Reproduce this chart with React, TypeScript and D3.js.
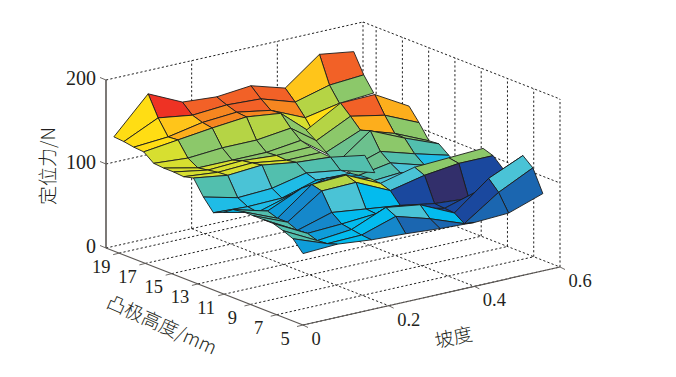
import React from "react";
import * as d3 from "d3";

// ---- data ----
const slopes = [0, 0.08, 0.16, 0.24, 0.32, 0.4, 0.48, 0.56];
const heights = [19.4, 18.64, 17.88, 17.13, 16.37, 15.61, 14.85, 14.09, 13.34, 12.58, 11.82, 11.06, 10.31, 9.55, 8.79, 8.03, 7.27, 6.52, 5.76, 5.0];
const _ = null;

// rear sheet: rows of the height grid 0..8
const rearForce = [
  [136, 178, 159, 156, 160, 148, 179, 173],
  [135, 154, 148, 151, 149, 136, 147, 150],
  [133, 136, 144, 147, 140, 122, 130, 133],
  [132, 137, 142, 146, 141, 106, 119, _],
  [123, 120, 123, 123, 128, 99, _, _],
  [122, 113, 113, 113, 118, 88, _, _],
  [122, 115, 117, 114, 115, _, _, _],
  [121, 117, 119, 113, 113, _, _, _],
  [124, 118, 121, 115, 112, _, _, _],
];
const rearShade = [
  [13, 18, 17, 17, 17, 14, 17],
  [13, 14, 16, 17, 16, 11, 10],
  [13, 15, 16, 16, 12, 13, 0],
  [12, 10, 11, 11, 10, 0, 0],
  [12, 10, 10, 10, 10, 0, 0],
  [12, 12, 10, 10, 0, 0, 0],
  [12, 12, 12, 10, 0, 0, 0],
  [12, 12, 12, 10, 0, 0, 0],
];

// ridge sheet: rows 9..16
const ridgeForce = [
  [_, _, _, 158, 181, 182, 159, _],
  [_, _, _, 150, 170, 162, 144, _],
  [_, _, _, 141, 158, 145, 127, _],
  [_, _, _, 132, 162, 144, 128, _],
  [_, _, _, 129, 142, 130, 119, _],
  [_, _, _, 126, 133, 121, 111, _],
  [_, _, _, 123, 126, 113, 108, _],
  [_, _, _, 112, 109, 102, 97, _],
];
const ridgeShade = [
  [0, 0, 0, 11, 17, 15, 0],
  [0, 0, 0, 10, 15, 10, 0],
  [0, 0, 0, 9, 10, 10, 0],
  [0, 0, 0, 9, 10, 8, 0],
  [0, 0, 0, 9, 8, 6, 0],
  [0, 0, 0, 8, 7, 7, 0],
  [0, 0, 0, 7, 7, 7, 0],
];

// front sheet: rows 8..19
const frontForce = [
  [124, 118, 121, 115, 112, 105, _, _],
  [106, 96, 98, 107, 101, 89, _, _],
  [92, 90, 91, 103, 102, _, _, _],
  [97, 88, 100, 110, 104, _, _, _],
  [105, 94, 112, 116, 105, _, _, _],
  [107, 90, 121, 123, 104, 114, 116, 118],
  [107, 90, 118, 119, 100, 109, 114, 114],
  [107, 85, 97, 92, 87, 80, 77, 103],
  [107, 86, 88, 91, 88, 79, 91, 103],
  [103, 82, 86, 103, 97, 78, 110, 128],
  [98, 83, 84, 97, 85, 70, 98, 118],
  [85, 87, 83, 81, 78, 76, 78, 92],
];
const frontShade = [
  [8, 7, 8, 8, 8, 0, 0],
  [6, 6, 6, 7, 7, 0, 0],
  [6, 6, 5, 6, 6, 0, 0],
  [5, 5, 4, 6, 6, 0, 0],
  [8, 4, 4, 11, 0, 0, 0],
  [8, 3, 11, 12, 7, 10, 10],
  [8, 3, 7, 5, 1, 0, 1],
  [8, 3, 5, 5, 1, 1, 1],
  [8, 4, 5, 5, 1, 1, 1],
  [8, 5, 5, 7, 5, 1, 7],
  [4, 5, 3, 2, 2, 2, 2],
];
const colormap = ["#322F6B", "#1A489E", "#1B66B0", "#1588CB", "#0F9DDA", "#03BBEE", "#1FBCE6", "#4AC3D6", "#52BFAE", "#6CC18E", "#8CC86A", "#B5D445", "#D7DF30", "#FFDD14", "#FFC51A", "#FDAE1C", "#F68620", "#F26127", "#EE3224"];

const zTicks = [0, 100, 200];
const zGrid = [100, 200];
const heightTicks = [19, 17, 15, 13, 11, 9, 7, 5];
const slopeTicks = [0, 0.2, 0.4, 0.6];

// ---- projection ----
const A = { x: 106, y: 248 };
const B = { x: 303, y: 325 };
const C = { x: 560, y: 267 };
const hFrac = d3.scaleLinear().domain([20, 5]).range([0, 1]);
const sFrac = d3.scaleLinear().domain([0, 0.6]).range([0, 1]);
const zPix = d3.scaleLinear().domain([0, 200]).range([0, 168]);
const project = (h: number, s: number, z: number): [number, number] => {
  const v = hFrac(h), u = sFrac(s);
  return [A.x + v * (B.x - A.x) + u * (C.x - B.x), A.y + v * (B.y - A.y) + u * (C.y - B.y) - zPix(z)];
};
const seg = (p: [number, number], q: [number, number]) => d3.line()([p, q]) as string;

const serif = "'Liberation Serif', 'Times New Roman', serif";
const cjk = "'Noto Sans CJK SC', 'Noto Sans', sans-serif";
const axisCol = "#5c5855";

type Sheet = { firstRow: number; force: (number | null)[][]; shade: number[][] };
const sheets: Sheet[] = [
  { firstRow: 0, force: rearForce, shade: rearShade },
  { firstRow: 9, force: ridgeForce, shade: ridgeShade },
  { firstRow: 8, force: frontForce, shade: frontShade },
];

function Surface() {
  const polys: React.ReactElement[] = [];
  sheets.forEach((sh, k) => {
    for (let r = 0; r < sh.force.length - 1; r++) {
      for (let i = slopes.length - 2; i >= 0; i--) {
        const a = sh.force[r][i], b = sh.force[r][i + 1], c = sh.force[r + 1][i + 1], d = sh.force[r + 1][i];
        if (a === null || b === null || c === null || d === null) continue;
        const j = sh.firstRow + r;
        const pts = [
          project(heights[j], slopes[i], a),
          project(heights[j], slopes[i + 1], b),
          project(heights[j + 1], slopes[i + 1], c),
          project(heights[j + 1], slopes[i], d),
        ];
        polys.push(
          <path key={`${k}-${r}-${i}`} d={d3.line()(pts) + "Z"} fill={colormap[sh.shade[r][i]]} stroke="#1c1c1c" strokeWidth={0.9} strokeLinejoin="round" />
        );
      }
    }
  });
  return <g>{polys}</g>;
}

function Box() {
  const dash = { stroke: "#222", strokeWidth: 1, strokeDasharray: "2.2 2.2", fill: "none" };
  const lines: string[] = [];
  zGrid.forEach((z) => {
    lines.push(seg(project(20, 0, z), project(20, 0.6, z)));
    lines.push(seg(project(20, 0.6, z), project(5, 0.6, z)));
  });
  lines.push(seg(project(20, 0, 0), project(20, 0.6, 0)));
  lines.push(seg(project(20, 0.6, 0), project(5, 0.6, 0)));
  lines.push(seg(project(20, 0.6, 0), project(20, 0.6, 200)));
  lines.push(seg(project(5, 0.6, 0), project(5, 0.6, 200)));
  slopeTicks.slice(1, 3).forEach((s) => {
    lines.push(seg(project(20, s, 0), project(20, s, 200)));
    lines.push(seg(project(20, s, 0), project(5, s, 0)));
  });
  heightTicks.forEach((h) => {
    lines.push(seg(project(h, 0, 0), project(h, 0.6, 0)));
    if (h !== 5) lines.push(seg(project(h, 0.6, 0), project(h, 0.6, 200)));
  });
  return <g>{lines.map((d, i) => <path key={i} d={d} {...dash} />)}</g>;
}

function Axes() {
  const A0 = project(20, 0, 0), A2 = project(20, 0, 200), B0 = project(5, 0, 0), C0 = project(5, 0.6, 0);
  return (
    <g fontFamily={serif} fontSize={18.5} fill="#231f20">
      <path d={seg(A0, A2)} stroke={axisCol} strokeWidth={1.6} />
      <path d={seg(A0, B0)} stroke={axisCol} strokeWidth={1.1} />
      <path d={seg(B0, C0)} stroke={axisCol} strokeWidth={1.2} />
      {zTicks.map((z) => {
        const p = project(20, 0, z);
        return (
          <g key={z}>
            <path d={seg(p, [p[0] - 6, p[1] - 2.5])} stroke={axisCol} strokeWidth={0.9} />
            <text x={p[0] - 10} y={p[1] + 5} textAnchor="end" fontSize={20}>{z}</text>
          </g>
        );
      })}
      {heightTicks.map((h) => {
        const p = project(h, 0, 0);
        return (
          <g key={h}>
            <path d={seg(p, [p[0] - 6, p[1] + 1.5])} stroke={axisCol} strokeWidth={0.9} />
            <text x={p[0] - 18} y={p[1] + 19.5} textAnchor="middle">{h}</text>
          </g>
        );
      })}
      {slopeTicks.map((s) => {
        const p = project(5, s, 0);
        return (
          <g key={s}>
            <path d={seg(p, [p[0] + 5, p[1] + 2.5])} stroke={axisCol} strokeWidth={0.9} />
            <text x={p[0] + 8.5} y={p[1] + 20}>{s}</text>
          </g>
        );
      })}
      <text x={55} y={166} transform="rotate(-90 55 166)" textAnchor="middle" fontFamily={cjk} fontWeight={300} fontSize={19}>定位力/N</text>
      <text x={159} y={331} transform="rotate(24 159 331)" textAnchor="middle" fontFamily={cjk} fontWeight={300} fontSize={19}>凸极高度/mm</text>
      <text x={455} y={344} transform="rotate(-12 455 344)" textAnchor="middle" fontFamily={cjk} fontWeight={300} fontSize={19}>坡度</text>
    </g>
  );
}

export default function App() {
  return (
    <svg width={676} height={377} viewBox="0 0 676 377" style={{ position: "absolute", left: 0, top: 0, background: "#fff" }}>
      <Box />
      <Axes />
      <Surface />
    </svg>
  );
}
